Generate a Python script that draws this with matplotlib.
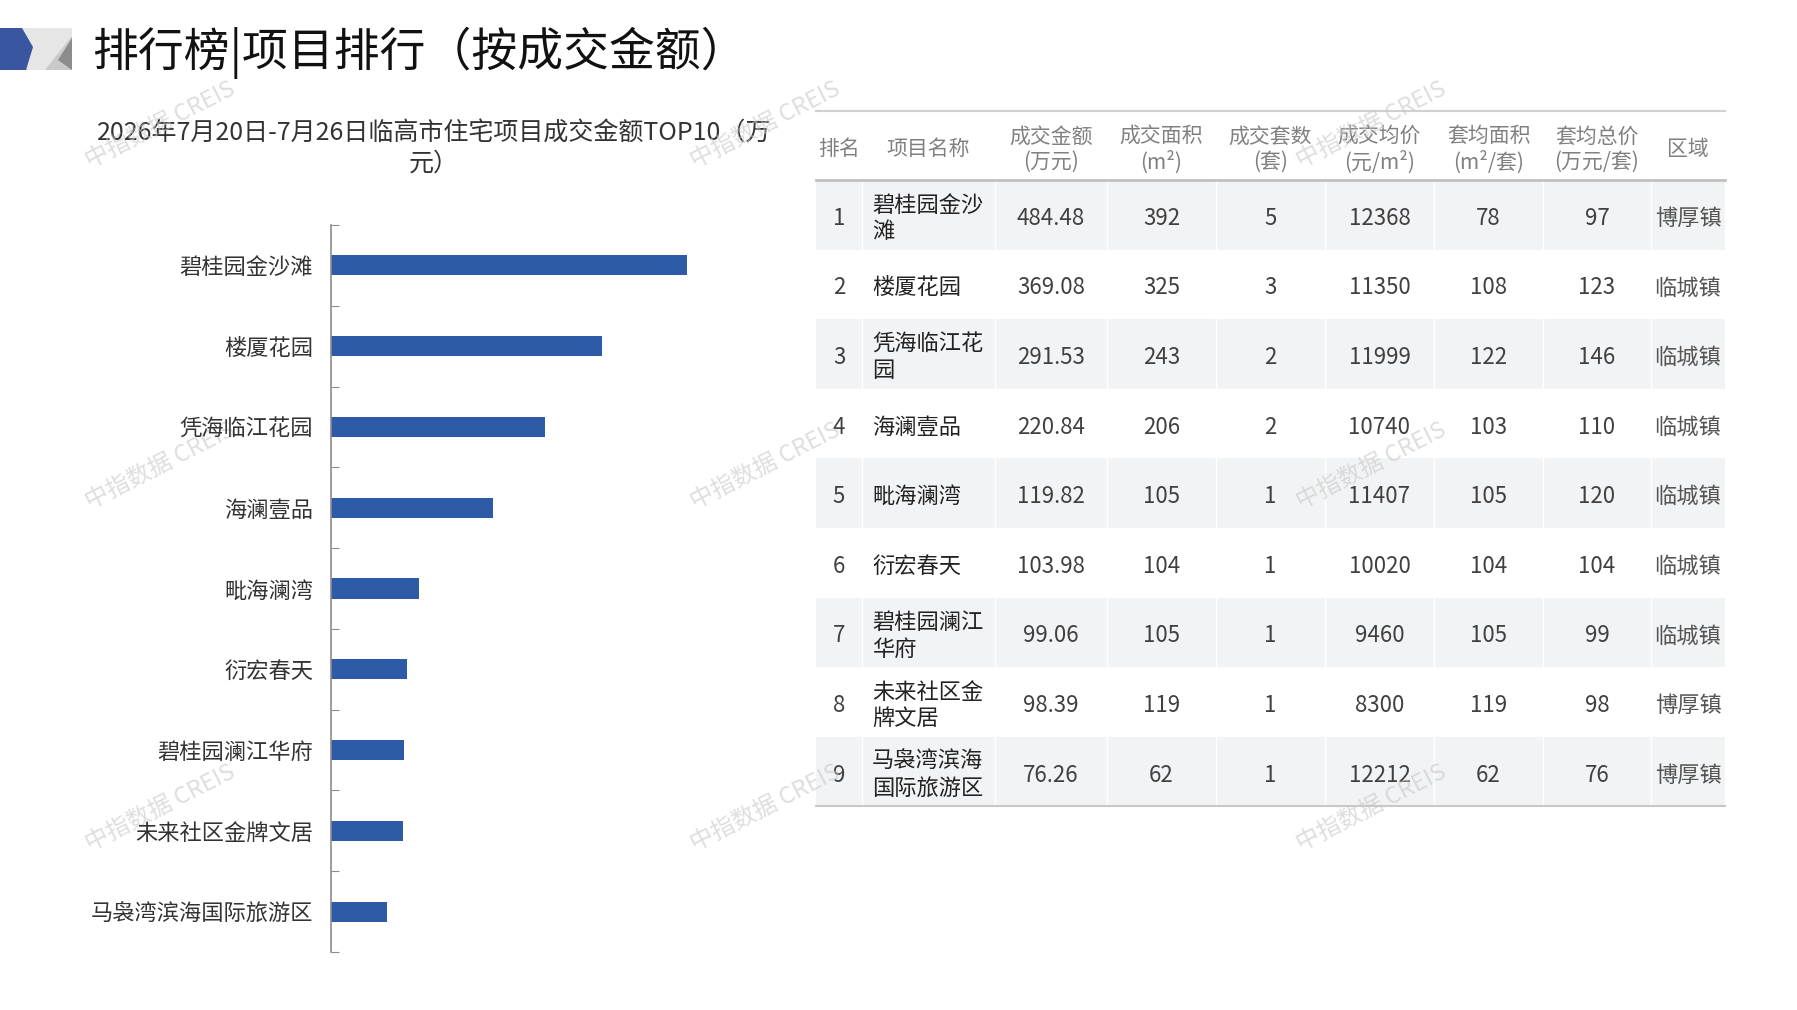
import matplotlib
matplotlib.use("Agg")
import matplotlib.pyplot as plt
from matplotlib.patches import Rectangle, Polygon

plt.rcParams['font.family'] = ['Noto Sans CJK SC', 'DejaVu Sans']

# ---- data ----
ranks = [1, 2, 3, 4, 5, 6, 7, 8, 9]
names = ['碧桂园金沙滩', '楼厦花园', '凭海临江花园', '海澜壹品', '毗海澜湾',
         '衍宏春天', '碧桂园澜江华府', '未来社区金牌文居', '马袅湾滨海国际旅游区']
amounts = [484.48, 369.08, 291.53, 220.84, 119.82, 103.98, 99.06, 98.39, 76.26]
areas = [392, 325, 243, 206, 105, 104, 105, 119, 62]
units = [5, 3, 2, 2, 1, 1, 1, 1, 1]
prices = [12368, 11350, 11999, 10740, 11407, 10020, 9460, 8300, 12212]
avg_area = [78, 108, 122, 103, 105, 104, 105, 119, 62]
avg_total = [97, 123, 146, 110, 120, 104, 99, 98, 76]
regions = ['博厚镇', '临城镇', '临城镇', '临城镇', '临城镇', '临城镇', '临城镇', '博厚镇', '博厚镇']

headers = ['排名', '项目名称', '成交金额\n(万元)', '成交面积\n(m²)', '成交套数\n(套)',
           '成交均价\n(元/m²)', '套均面积\n(m²/套)', '套均总价\n(万元/套)', '区域']

W, H = 1797, 1010
fig = plt.figure(figsize=(W / 100, H / 100), dpi=100)

# overlay in pixel coordinates for header, table, watermarks
ov = fig.add_axes([0, 0, 1, 1])
ov.set_xlim(0, W)
ov.set_ylim(H, 0)
ov.axis('off')

# header icon
ov.add_patch(Rectangle((0, 28), 72, 42, color='#c9c9c9', lw=0))
ov.add_patch(Polygon([(22, 28), (72, 28), (72, 36), (45, 70), (27, 70)], color='#e6e6e6', lw=0))
ov.add_patch(Polygon([(72, 38), (72, 70), (58, 60)], color='#8c8c8c', lw=0))
ov.add_patch(Polygon([(0, 28), (22, 28), (33, 47), (26, 70), (0, 70)], color='#3a56a0', lw=0))

ov.text(92, 53, '排行榜|项目排行（按成交金额）', fontsize=33, va='center', ha='left', color='#111111')

# chart title
ov.text(434, 149, '2026年7月20日-7月26日临高市住宅项目成交金额TOP10（万\n元）',
        fontsize=18, ha='center', va='center', color='#333333', linespacing=1.2)

# ---- bar chart ----
ax = fig.add_axes([331 / W, 1 - 952 / H, 441 / W, 727 / H])
ax.set_facecolor('none')
ypos = list(range(len(names)))
ax.barh(ypos, amounts, height=0.25, color='#2e5ba8')
ax.set_xlim(0, 600)
ax.set_ylim(len(names) - 0.5, -0.5)
for s in ['top', 'right', 'bottom']:
    ax.spines[s].set_visible(False)
ax.spines['left'].set_color('#8c8c8c')
ax.spines['left'].set_linewidth(1.2)
ax.set_xticks([])
ax.set_yticks([i - 0.5 for i in range(len(names) + 1)])
ax.set_yticklabels([])
ax.tick_params(axis='y', which='major', direction='in', length=6, color='#8c8c8c')
ax.set_yticks(ypos, minor=True)
ax.set_yticklabels(names, minor=True, fontsize=16, color='#333333')
ax.tick_params(axis='y', which='minor', length=0, pad=13)

# ---- table ----
col_edges = [816, 862, 995, 1107, 1216, 1325, 1434, 1543, 1651, 1725]
head_top, head_bot = 111, 180
row_h = 69.6
dy = 3.5  # text baseline nudge

for k, h in enumerate(headers):
    cx = (col_edges[k] + col_edges[k + 1]) / 2
    ov.text(cx, (head_top + head_bot) / 2 + dy, h, ha='center', va='center', fontsize=15,
            color='#808080', linespacing=1.2)

ov.plot([col_edges[0], col_edges[-1]], [head_top, head_top], color='#d0d0d0', lw=1.5)
ov.plot([col_edges[0], col_edges[-1]], [head_bot, head_bot], color='#c0c0c0', lw=2)

for i in range(len(ranks)):
    top = head_bot + i * row_h
    cy = top + row_h / 2 + dy
    if i % 2 == 0:
        ov.add_patch(Rectangle((col_edges[0], top), col_edges[-1] - col_edges[0], row_h,
                               color='#f2f3f5', lw=0, zorder=0))
        for e in col_edges[1:-1]:
            ov.plot([e, e], [top, top + row_h], color='white', lw=1, zorder=0.5)
    nm = names[i]
    if len(nm) > 5:
        nm = nm[:5] + '\n' + nm[5:]
    vals = [str(ranks[i]), None, f'{amounts[i]:.2f}', str(areas[i]), str(units[i]),
            str(prices[i]), str(avg_area[i]), str(avg_total[i]), regions[i]]
    for k, v in enumerate(vals):
        cx = (col_edges[k] + col_edges[k + 1]) / 2
        if k == 1:
            ov.text(col_edges[1] + 10, cy, nm, ha='left', va='center', fontsize=16,
                    color='#222222', linespacing=1.2)
        else:
            ov.text(cx, cy, v, ha='center', va='center', fontsize=16,
                    color='#404040' if k != 8 else '#555555')

tab_bot = head_bot + len(ranks) * row_h
ov.plot([col_edges[0], col_edges[-1]], [tab_bot, tab_bot], color='#c8c8c8', lw=1.5)

# watermarks
for wy in [125, 466, 808]:
    for wx in [160, 765, 1371]:
        ov.text(wx, wy, '中指数据 CREIS', fontsize=17, color='#c8c8c8', alpha=0.6,
                rotation=27, ha='center', va='center', zorder=10)

fig.savefig('out.png', dpi=100, facecolor='white')
